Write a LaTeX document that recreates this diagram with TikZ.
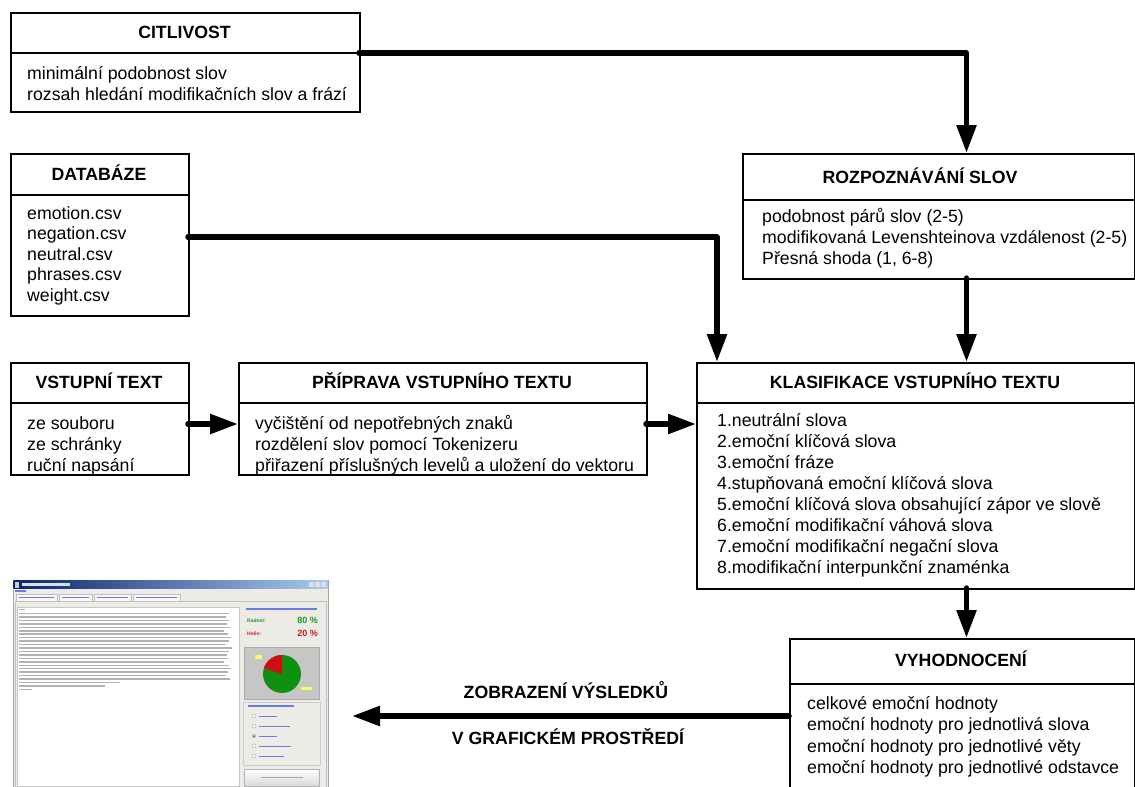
\documentclass[tikz,border=0pt]{standalone}
\usepackage{fontspec}
\setmainfont{Liberation Sans}
\usetikzlibrary{arrows.meta}
\definecolor{titleA}{HTML}{0A246A}
\definecolor{titleB}{HTML}{A6CAF0}
\definecolor{winbg}{HTML}{ECEBE6}
\definecolor{uiblue}{HTML}{3A4FD8}
\definecolor{uigreen}{HTML}{1E9A1E}
\definecolor{uired}{HTML}{D01818}
\definecolor{piegreen}{HTML}{109010}
\definecolor{piered}{HTML}{D01010}
\tikzset{
  box/.style={draw, line width=1.6pt, anchor=north west, inner sep=0pt},
  divline/.style={line width=1.6pt},
  hdr/.style={font=\fontsize{17.7}{20}\selectfont\bfseries, anchor=base, inner sep=0pt},
  txt/.style={anchor=base west, inner sep=0pt},
  conn/.style={line width=5.5pt, line cap=round, line join=round, -{Triangle[length=28pt,width=19pt]}},
  txtline/.style={line width=1.5pt, gray!60},
  bluetxt/.style={line width=1.3pt, uiblue!75},
}
\begin{document}
\begin{tikzpicture}[x=1pt, y=-1pt, font=\fontsize{17.7}{20}\selectfont]
\useasboundingbox (0,0) rectangle (1135,787);
\clip (0,0) rectangle (1135,787);
\fill[white] (0,0) rectangle (1135,787);

% ---------- CITLIVOST
\node[box, minimum width=349pt, minimum height=99pt] (cit) at (10,12) {};
\coordinate (citdl) at (10,53); \coordinate (citdr) at (359,53);
\draw[divline] (citdl) -- (citdr);
\node[hdr] (cith) at (184.5,38.5) {CITLIVOST};
\foreach \t [count=\i from 0] in {minimální podobnost slov, rozsah hledání modifikačních slov a frází}
  \node[txt] (cit-\i) at (27,{79+21*\i}) {\t};

% ---------- DATABAZE
\node[box, minimum width=178pt, minimum height=162pt] (db) at (10,153) {};
\draw[divline] (10,195) -- (188,195);
\node[hdr] (dbh) at (99,180) {DATABÁZE};
\foreach \t [count=\i from 0] in {emotion.csv, negation.csv, neutral.csv, phrases.csv, weight.csv}
  \node[txt] (db-\i) at (27,{219+20.6*\i}) {\t};
\coordinate (dbout) at (188,237);

% ---------- VSTUPNI TEXT
\node[box, minimum width=178pt, minimum height=112pt] (vst) at (10,362) {};
\draw[divline] (10,403) -- (188,403);
\node[hdr] (vsth) at (99,388.5) {VSTUPNÍ TEXT};
\foreach \t [count=\i from 0] in {ze souboru, ze schránky, ruční napsání}
  \node[txt] (vst-\i) at (27,{429+21*\i}) {\t};
\coordinate (vstout) at (188,424);

% ---------- PRIPRAVA
\node[box, minimum width=408pt, minimum height=112pt] (prip) at (238,362) {};
\draw[divline] (238,403) -- (646,403);
\node[hdr] (priph) at (442,388.5) {PŘÍPRAVA VSTUPNÍHO TEXTU};
\foreach \t [count=\i from 0] in {vyčištění od nepotřebných znaků, rozdělení slov pomocí Tokenizeru, přiřazení příslušných levelů a uložení do vektoru}
  \node[txt] (prip-\i) at (255,{429+21*\i}) {\t};
\coordinate (pripin) at (238,424);
\coordinate (pripout) at (646,424);

% ---------- ROZPOZNAVANI SLOV
\node[box, minimum width=392pt, minimum height=125pt] (rozp) at (742,153) {};
\draw[divline] (742,200) -- (1134,200);
\node[hdr] (rozph) at (920,183) {ROZPOZNÁVÁNÍ SLOV};
\foreach \t [count=\i from 0] in {podobnost párů slov (2-5), modifikovaná Levenshteinova vzdálenost (2-5), {Přesná shoda (1, 6-8)}}
  \node[txt] (rozp-\i) at (762,{222+21.3*\i}) {\t};
\coordinate (rozpin) at (966.5,153);
\coordinate (rozpout) at (966.5,278);

% ---------- KLASIFIKACE
\node[box, minimum width=438pt, minimum height=226pt] (klas) at (696,362) {};
\draw[divline] (696,403) -- (1134,403);
\node[hdr] (klash) at (915,388.5) {KLASIFIKACE VSTUPNÍHO TEXTU};
\foreach \t [count=\i from 0] in {1.neutrální slova, 2.emoční klíčová slova, 3.emoční fráze, 4.stupňovaná emoční klíčová slova, 5.emoční klíčová slova obsahující zápor ve slově, 6.emoční modifikační váhová slova, 7.emoční modifikační negační slova, 8.modifikační interpunkční znaménka}
  \node[txt] (klas-\i) at (717,{426+21*\i}) {\t};
\coordinate (klasinA) at (717,362);
\coordinate (klasinB) at (966.5,362);
\coordinate (klasinC) at (696,424);
\coordinate (klasout) at (966.5,588);

% ---------- VYHODNOCENI
\node[box, minimum width=345pt, minimum height=160pt] (vyh) at (789,638) {};
\draw[divline] (789,684) -- (1134,684);
\node[hdr] (vyhh) at (961,666) {VYHODNOCENÍ};
\foreach \t [count=\i from 0] in {celkové emoční hodnoty, emoční hodnoty pro jednotlivá slova, emoční hodnoty pro jednotlivé věty, emoční hodnoty pro jednotlivé odstavce}
  \node[txt] (vyh-\i) at (807,{709+21.6*\i}) {\t};
\coordinate (vyhin) at (966.5,638);
\coordinate (vyhout) at (789,716);
\coordinate (guiend) at (352,716);

% ---------- connectors
\draw[conn] (citdr) -| (rozpin);
\draw[conn] (dbout) -| (klasinA);
\draw[conn] (rozpout) -- (klasinB);
\draw[conn] (vstout) -- (pripin);
\draw[conn] (pripout) -- (klasinC);
\draw[conn] (klasout) -- (vyhin);
\draw[conn] (vyhout) -- (guiend);
\node[hdr] (lab1) at (566,698) {ZOBRAZENÍ VÝSLEDKŮ};
\node[hdr] (lab2) at (568,744) {V GRAFICKÉM PROSTŘEDÍ};

% ---------- application screenshot
\fill[winbg] (13,580) rectangle (328,790);
\draw[gray!70, line width=0.6pt] (13,580) rectangle (328,790);
\shade[left color=titleA, right color=titleB] (13.5,580.5) rectangle (327.5,588.5);
\fill[gray!40] (15,581.5) rectangle (19,587.5);
\fill[white!85!titleA] (22,583.3) rectangle (70,585.8);
\foreach \a in {309,315,321}
  \fill[gray!25] (\a,581.8) rectangle ({\a+5},587.2);
\draw[bluetxt] (15,591) -- (26,591);
\foreach \a/\b in {16/57,59/92,94/131,133/180}{
  \fill[white!60!winbg] (\a,594) rectangle (\b,601.5);
  \draw[gray!50, line width=0.5pt] (\a,601.5) -- (\a,594) -- (\b,594) -- (\b,601.5);
  \draw[bluetxt, line width=1pt] ({\a+3},597.8) -- ({\b-3},597.8);
}
\draw[gray!50, line width=0.5pt] (15,601.5) rectangle (326,790);
% text area
\fill[white] (17,607) rectangle (239,786);
\draw[gray!45, line width=0.5pt] (17,607) rectangle (239,786);
\draw[txtline] (18.5,609.5) -- (25,609.5);
\foreach \e [count=\i from 0] in {229,226,229,227,230,224,228,231,229,226,232,229,227,228,224,229,231,228,226,230,120}
  \draw[txtline] (18.5,{613.5+3.45*\i}) -- (\e,{613.5+3.45*\i});
\draw[txtline] (18.5,686) -- (105,686);
\draw[txtline] (18.5,689.5) -- (32,689.5);
% right panel
\draw[bluetxt] (246,609) -- (317,609);
\node[font=\bfseries\fontsize{5}{5}\selectfont, text=uigreen, anchor=base west, inner sep=0pt] (rad) at (247,622) {Radost:};
\node[font=\bfseries\fontsize{9}{9}\selectfont, text=uigreen, anchor=base east, inner sep=0pt] (radv) at (318,623.5) {80 \%};
\node[font=\bfseries\fontsize{5}{5}\selectfont, text=uired, anchor=base west, inner sep=0pt] (hnev) at (247,635) {Hněv:};
\node[font=\bfseries\fontsize{9}{9}\selectfont, text=uired, anchor=base east, inner sep=0pt] (hnevv) at (318,636.5) {20 \%};
\fill[gray!45] (244,647) rectangle (319,699);
\draw[gray!65, line width=0.5pt] (244,647) rectangle (319,699);
\fill[piegreen] (282,674) circle[radius=19pt];
\fill[piered] (282,674) -- ++(90:19pt) arc[start angle=90, end angle=162, radius=19pt] -- cycle;
\fill[yellow!60] (255,655) rectangle (262,659);
\draw[gray!60, line width=0.4pt] (262,657) -- (266,659);
\fill[yellow!60] (301,686.5) rectangle (312,690);
% radio panel
\draw[gray!40, line width=0.5pt] (243,702) rectangle (320,765);
\draw[bluetxt] (248,706) -- (294,706);
\foreach \y/\e [count=\i] in {716/277,726/290,736/277,746/291,756/284}{
  \fill[white] (254,\y) circle[radius=2pt];
  \draw[gray!70, line width=0.4pt] (254,\y) circle[radius=2pt];
  \draw[bluetxt, line width=1pt] (259,\y) -- (\e,\y);
}
\fill[black!80] (254,736) circle[radius=1pt];
% button
\shade[top color=white, bottom color=gray!30] (244,769) rectangle (319,786);
\draw[gray!60, line width=0.5pt] (244,769) rectangle (319,786);
\draw[txtline, gray!70, line width=1pt] (261,777.5) -- (303,777.5);
\end{tikzpicture}
\end{document}
